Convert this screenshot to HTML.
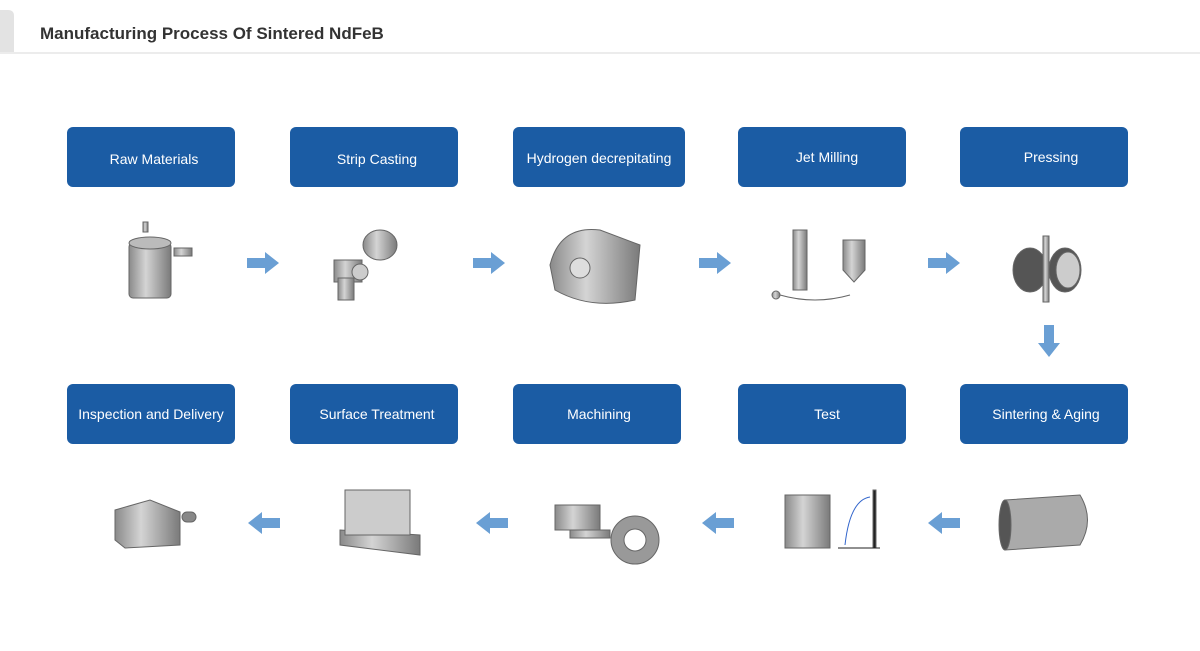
<!DOCTYPE html>
<html><head><meta charset="utf-8"><style>
body{margin:0;width:1200px;height:646px;background:#fff;overflow:hidden;font-family:"Liberation Sans",Arial,sans-serif}
</style></head><body>
<svg width="1200" height="646" xmlns="http://www.w3.org/2000/svg" font-family="Liberation Sans, Arial, sans-serif">
<defs>
<linearGradient id="g" x1="0" x2="1"><stop offset="0" stop-color="#8a8a8a"/><stop offset=".4" stop-color="#d4d4d4"/><stop offset="1" stop-color="#7a7a7a"/></linearGradient>
<g id="ar"><path d="M0,-5 H18 V-11 L32,0 L18,11 V5 H0 Z" fill="#6a9fd4"/></g>
</defs>
<path d="M0,10 H8 Q14,10 14,16 V53 H0Z" fill="#e3e3e3"/>
<rect x="0" y="52" width="1200" height="2" fill="#ececec"/>
<text x="40" y="39" font-size="17" font-weight="bold" fill="#333">Manufacturing Process Of Sintered NdFeB</text>
<g fill="#1b5ca4">
<rect x="67" y="127" width="168" height="60" rx="6"/><rect x="290" y="127" width="168" height="60" rx="6"/><rect x="513" y="127" width="172" height="60" rx="6"/><rect x="738" y="127" width="168" height="60" rx="6"/><rect x="960" y="127" width="168" height="60" rx="6"/>
<rect x="67" y="384" width="168" height="60" rx="6"/><rect x="290" y="384" width="168" height="60" rx="6"/><rect x="513" y="384" width="168" height="60" rx="6"/><rect x="738" y="384" width="168" height="60" rx="6"/><rect x="960" y="384" width="168" height="60" rx="6"/>
</g>
<g fill="#fff" font-size="14" text-anchor="middle">
<text x="154" y="164">Raw Materials</text><text x="377" y="164">Strip Casting</text><text x="599" y="163">Hydrogen decrepitating</text><text x="827" y="162">Jet Milling</text><text x="1051" y="162">Pressing</text>
<text x="151" y="419">Inspection and Delivery</text><text x="377" y="419">Surface Treatment</text><text x="599" y="419">Machining</text><text x="827" y="419">Test</text><text x="1046" y="419">Sintering &amp; Aging</text>
</g>
<use href="#ar" x="247" y="263"/><use href="#ar" x="473" y="263"/><use href="#ar" x="699" y="263"/><use href="#ar" x="928" y="263"/>
<use href="#ar" transform="translate(1049,325) rotate(90)"/>
<use href="#ar" transform="translate(280,523) rotate(180)"/><use href="#ar" transform="translate(508,523) rotate(180)"/><use href="#ar" transform="translate(734,523) rotate(180)"/><use href="#ar" transform="translate(960,523) rotate(180)"/>
<!-- illustrations -->
<g fill="url(#g)" stroke="#666" stroke-width="1">
<rect x="129" y="243" width="42" height="55" rx="4"/><ellipse cx="150" cy="243" rx="21" ry="6" fill="#bbb"/><rect x="143" y="222" width="5" height="10"/><rect x="174" y="248" width="18" height="8"/>
<ellipse cx="380" cy="245" rx="17" ry="15"/><rect x="334" y="260" width="28" height="22"/><rect x="338" y="278" width="16" height="22"/><circle cx="360" cy="272" r="8" fill="#ccc"/>
<path d="M550,265 Q560,225 600,230 L640,245 L635,300 Q590,310 555,290Z"/><circle cx="580" cy="268" r="10" fill="#ddd"/>
<rect x="793" y="230" width="14" height="60"/><path d="M843,240 h22 v30 l-11,12 l-11,-12Z"/><path d="M780,295 Q815,305 850,295" fill="none"/><circle cx="776" cy="295" r="4"/>
<ellipse cx="1030" cy="270" rx="17" ry="22" fill="#555"/><ellipse cx="1065" cy="270" rx="16" ry="22" fill="#555"/><ellipse cx="1068" cy="270" rx="12" ry="18" fill="#ccc"/><rect x="1043" y="236" width="6" height="66"/>
<path d="M1005,500 L1080,495 Q1095,520 1080,545 L1005,550 Z" fill="#aaa"/><ellipse cx="1005" cy="525" rx="6" ry="25" fill="#555"/>
<rect x="785" y="495" width="45" height="53"/><rect x="873" y="490" width="3" height="58" fill="#222"/><path d="M838,548 H880" stroke="#222"/><path d="M845,545 Q850,500 870,497" fill="none" stroke="#36c"/>
<circle cx="635" cy="540" r="24" fill="#999"/><circle cx="635" cy="540" r="11" fill="#fff"/><rect x="555" y="505" width="45" height="25"/><rect x="570" y="530" width="40" height="8"/>
<path d="M340,530 L420,535 L420,555 L340,545Z"/><rect x="345" y="490" width="65" height="45" fill="#ccc"/>
<path d="M115,510 L150,500 L180,512 L180,545 L125,548 L115,540Z"/><rect x="182" y="512" width="14" height="10" rx="5" fill="#888"/>
</g>
</svg>
</body></html>
